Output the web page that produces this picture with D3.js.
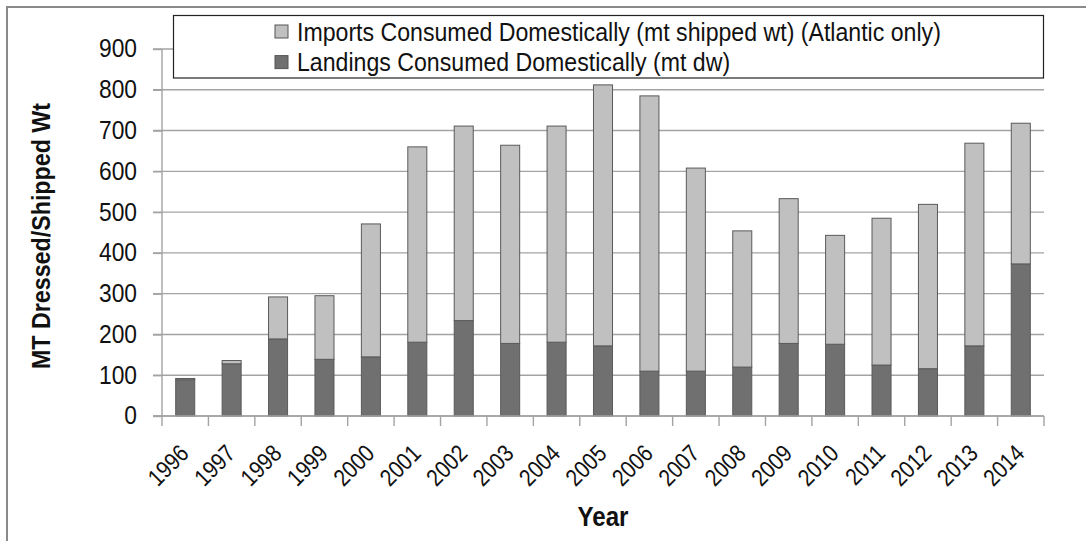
<!DOCTYPE html>
<html><head><meta charset="utf-8">
<script src="https://cdn.jsdelivr.net/npm/d3@7"></script>
<style>
html,body{margin:0;padding:0;background:#fff;}
svg{display:block;font-family:"Liberation Sans",Arial,sans-serif;}
</style></head>
<body>
<svg id="chart" width="1086" height="541"></svg>
<script>
const years = ["1996","1997","1998","1999","2000","2001","2002","2003","2004","2005","2006","2007","2008","2009","2010","2011","2012","2013","2014"];
const landings = [89,128,189,139,145,181,234,178,181,172,110,110,120,178,176,125,116,172,373];
const imports = [3,8,103,156,326,479,477,486,530,640,675,498,334,355,267,360,403,497,345];
const yTicks = [0,100,200,300,400,500,600,700,800,900];
const seriesNames = ["Imports Consumed Domestically (mt shipped wt) (Atlantic only)","Landings Consumed Domestically (mt dw)"];
const seriesColors = ["#c0c0c0","#707070"];

const svg = d3.select("#chart");
const L = 162, R = 1044, T = 49, B = 416;

const x = d3.scaleBand().domain(years).range([L, R]).paddingInner(0.59).paddingOuter(0.295);
const y = d3.scaleLinear().domain([0, 900]).range([B, T]);

// outer frame (left and top only)
svg.append("path").attr("d", "M7,541 L7,7 L1086,7").attr("fill","none").attr("stroke","#8a8a8a").attr("stroke-width",2);

// gridlines
svg.append("g").selectAll("line").data(yTicks).join("line")
  .attr("x1", L - 9).attr("x2", R).attr("y1", d => y(d)).attr("y2", d => y(d))
  .attr("stroke", "#a3a3a3").attr("stroke-width", 1.4);

// y axis
const yAxis = svg.append("g").attr("transform", `translate(${L},0)`)
  .call(d3.axisLeft(y).tickValues(yTicks).tickSize(9).tickPadding(16));
yAxis.select(".domain").attr("stroke", "#a3a3a3").attr("stroke-width", 1.4).attr("d", `M0,${B}V${T}`);
yAxis.selectAll(".tick line").attr("stroke", "#a3a3a3").attr("stroke-width", 1.4);
yAxis.selectAll(".tick text").attr("font-size", 26.5).attr("fill", "#111").attr("dy", "0.3em").attr("data-c", 0.86);

// stacked bars
const data = years.map((yr, i) => ({year: yr, landings: landings[i], imports: imports[i]}));
const stack = d3.stack().keys(["landings", "imports"])(data);
const colorFor = {landings: seriesColors[1], imports: seriesColors[0]};
svg.append("g").selectAll("g").data(stack).join("g")
  .attr("fill", d => colorFor[d.key])
  .selectAll("rect").data(d => d).join("rect")
  .attr("x", d => x(d.data.year))
  .attr("width", x.bandwidth())
  .attr("y", d => y(d[1]))
  .attr("height", d => y(d[0]) - y(d[1]))
  .attr("stroke", "#5a5a5a").attr("stroke-width", 1);

// x axis line
svg.append("line").attr("x1", L - 9).attr("x2", R).attr("y1", B).attr("y2", B)
  .attr("stroke", "#a3a3a3").attr("stroke-width", 1.4);
// x boundary ticks
const step = x.step();
const bounds = years.map(d => x(d) + x.bandwidth() / 2 - step / 2).concat([x(years[years.length - 1]) + x.bandwidth() / 2 + step / 2]);
svg.append("g").selectAll("line").data(bounds).join("line")
  .attr("x1", d => d).attr("x2", d => d).attr("y1", B).attr("y2", B + 10)
  .attr("stroke", "#a3a3a3").attr("stroke-width", 1.4);
// x labels
svg.append("g").selectAll("text").data(years).join("text")
  .attr("transform", d => `translate(${x(d) + x.bandwidth() / 2 + 5},${B + 39}) rotate(-45)`)
  .attr("text-anchor", "end").attr("font-size", 24).attr("fill", "#111").attr("data-c", 0.86)
  .text(d => d);

// axis titles
svg.append("text").attr("transform", `translate(50,236) rotate(-90)`)
  .attr("text-anchor", "middle").attr("font-size", 25).attr("font-weight", "bold").attr("fill", "#111").attr("data-c", 0.93)
  .text("MT Dressed/Shipped Wt");
svg.append("text").attr("x", (L + R) / 2).attr("y", 526)
  .attr("text-anchor", "middle").attr("font-size", 28).attr("font-weight", "bold").attr("fill", "#111").attr("data-c", 0.86)
  .text("Year");

// legend
const lg = svg.append("g");
lg.append("rect").attr("x", 173.5).attr("y", 15.5).attr("width", 870).attr("height", 62.5)
  .attr("fill", "#fff").attr("stroke", "#222").attr("stroke-width", 1.2);
const legendItems = lg.selectAll("g.item").data(seriesNames).join("g").attr("class", "item")
  .attr("transform", (d, i) => `translate(275,${25 + i * 30.6})`);
legendItems.append("rect").attr("width", 13).attr("height", 13)
  .attr("fill", (d, i) => seriesColors[i]).attr("stroke", "#555").attr("stroke-width", 1);
legendItems.append("text").attr("x", 22).attr("y", 15.7).attr("font-size", 25).attr("fill", "#111").attr("data-c", 0.925)
  .text(d => d);

// condense text horizontally
svg.selectAll("text[data-c]").each(function() {
  const c = +this.getAttribute("data-c");
  const len = this.getComputedTextLength();
  d3.select(this).attr("textLength", len * c).attr("lengthAdjust", "spacingAndGlyphs");
});
</script>
</body></html>
